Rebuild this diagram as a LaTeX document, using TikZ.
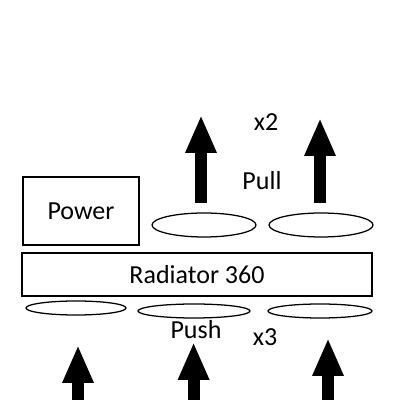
\documentclass[tikz,border=0pt]{standalone}
\usepackage{fontspec}
\setmainfont{Carlito}
\usetikzlibrary{arrows.meta,shapes.geometric}

\begin{document}
\begin{tikzpicture}[
    box/.style={draw, line width=1.1pt, inner sep=0pt},
    fan/.style={draw, ellipse, line width=0.9pt, inner sep=0pt},
    flow/.style={line width=0.3cm, -{Triangle[width=0.72cm,length=0.95cm]}},
    lbl/.style={font=\fontsize{18.5}{20}\selectfont}
  ]
        \useasboundingbox (0,0) rectangle (10,10);

        % Kutular
        \node[box, minimum width=2.9cm, minimum height=1.7cm, lbl] (power) at (2.025,4.725) {Power};
        \node[box, minimum width=8.75cm, minimum height=1.075cm, lbl] (rad) at (4.925,3.1375) {Radiator 360};

        % Pull fanlar
        \node[fan, minimum width=2.6cm, minimum height=0.6cm] (pull1) at (5.1,4.375) {};
        \node[fan, minimum width=2.6cm, minimum height=0.6cm] (pull2) at (8.025,4.375) {};

        % Push fanlar
        \node[fan, minimum width=2.5cm, minimum height=0.35cm] (push1) at (1.9,2.3) {};
        \node[fan, minimum width=2.8cm, minimum height=0.35cm] (push2) at (4.85,2.225) {};
        \node[fan, minimum width=2.6cm, minimum height=0.35cm] (push3) at (8.0,2.225) {};

        % Hava akisi
        \coordinate (up1a) at (5.025,4.925);
        \coordinate (up1b) at (5.025,7.125);
        \coordinate (up2a) at (8.0,4.925);
        \coordinate (up2b) at (8.0,7.05);
        \coordinate (in1a) at (1.95,0);
        \coordinate (in1b) at (1.95,1.375);
        \coordinate (in2a) at (4.84,0);
        \coordinate (in2b) at (4.84,1.45);
        \coordinate (in3a) at (8.2,0);
        \coordinate (in3b) at (8.2,1.55);
        \draw[flow] (up1a) -- (up1b);
        \draw[flow] (up2a) -- (up2b);
        \draw[flow] (in1a) -- (in1b);
        \draw[flow] (in2a) -- (in2b);
        \draw[flow] (in3a) -- (in3b);

        % Yazilar
        \node[lbl] (x2) at (6.65,6.95) {x2};
        \node[lbl] (pull) at (6.55,5.475) {Pull};
        \node[lbl] (push) at (4.9,1.75) {Push};
        \node[lbl] (x3) at (6.625,1.575) {x3};
    \end{tikzpicture}
\end{document}
